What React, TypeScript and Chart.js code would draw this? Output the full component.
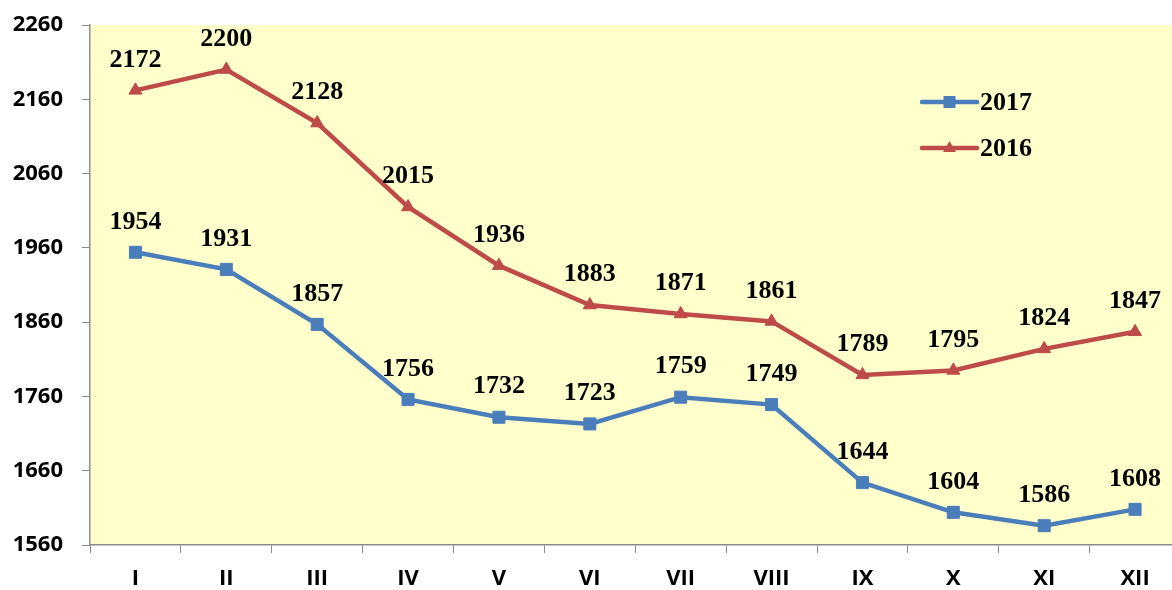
import React, { useEffect, useRef } from "react";
import { Chart, registerables } from "chart.js";

Chart.register(...registerables);

const months = ["I", "II", "III", "IV", "V", "VI", "VII", "VIII", "IX", "X", "XI", "XII"];
const values2017 = [1954, 1931, 1857, 1756, 1732, 1723, 1759, 1749, 1644, 1604, 1586, 1608];
const values2016 = [2172, 2200, 2128, 2015, 1936, 1883, 1871, 1861, 1789, 1795, 1824, 1847];
const seriesNames = ["2017", "2016"];
const yMin = 1560;
const yMax = 2260;
const yStep = 100;

const BLUE = "#4A7EBB";
const RED = "#BE4B48";
const AXIS = "#8C8C8C";
const BG = "#FFFFCC";

const bgPlugin = {
  id: "plotBg",
  beforeDraw(chart: any) {
    const { ctx, chartArea } = chart;
    ctx.save();
    ctx.fillStyle = BG;
    ctx.fillRect(chartArea.left, chartArea.top, chartArea.right - chartArea.left, chartArea.bottom - chartArea.top);
    ctx.restore();
  },
};

const labelPlugin = {
  id: "pointLabels",
  afterDatasetsDraw(chart: any) {
    const { ctx } = chart;
    ctx.save();
    ctx.font = "bold 26px 'Liberation Serif', 'Times New Roman', serif";
    ctx.fillStyle = "#000";
    ctx.textAlign = "center";
    ctx.textBaseline = "middle";
    chart.data.datasets.forEach((ds: any, i: number) => {
      const meta = chart.getDatasetMeta(i);
      meta.data.forEach((pt: any, j: number) => {
        ctx.fillText(String(ds.data[j]), pt.x, pt.y - 30.5);
      });
    });
    ctx.restore();
  },
};

const legendPlugin = {
  id: "customLegend",
  afterDraw(chart: any) {
    const { ctx } = chart;
    const x0 = 922;
    const x1 = 977;
    const rows = [102, 148];
    ctx.save();
    chart.data.datasets.forEach((ds: any, i: number) => {
      const y = rows[i];
      ctx.strokeStyle = ds.borderColor;
      ctx.lineWidth = 4.5;
      ctx.lineCap = "round";
      ctx.beginPath();
      ctx.moveTo(x0, y);
      ctx.lineTo(x1, y);
      ctx.stroke();
      ctx.fillStyle = ds.borderColor;
      const cx = (x0 + x1) / 2;
      if (ds.pointStyle === "rect") {
        ctx.fillRect(cx - 6, y - 6, 12, 12);
      } else {
        ctx.beginPath();
        ctx.moveTo(cx, y - 7);
        ctx.lineTo(cx + 6.5, y + 4);
        ctx.lineTo(cx - 6.5, y + 4);
        ctx.closePath();
        ctx.fill();
      }
      ctx.fillStyle = "#000";
      ctx.font = "bold 26px 'Liberation Serif', 'Times New Roman', serif";
      ctx.textAlign = "left";
      ctx.textBaseline = "middle";
      ctx.fillText(ds.label, 980, y + 1);
    });
    ctx.restore();
  },
};

export default function App() {
  const ref = useRef<HTMLCanvasElement | null>(null);
  useEffect(() => {
    if (!ref.current) return;
    const chart = new Chart(ref.current, {
      type: "line",
      data: {
        labels: months,
        datasets: [
          {
            label: seriesNames[0],
            data: values2017,
            borderColor: BLUE,
            backgroundColor: BLUE,
            borderWidth: 4.5,
            pointStyle: "rect",
            pointRadius: 8.5,
            pointBorderWidth: 1,
            pointBackgroundColor: BLUE,
            pointBorderColor: BLUE,
            tension: 0,
          },
          {
            label: seriesNames[1],
            data: values2016,
            borderColor: RED,
            backgroundColor: RED,
            borderWidth: 4.5,
            pointStyle: "triangle",
            pointRadius: 7.5,
            pointBorderWidth: 1,
            pointBackgroundColor: RED,
            pointBorderColor: RED,
            tension: 0,
          },
        ],
      },
      options: {
        responsive: false,
        animation: false,
        layout: { padding: { top: 25, left: 0, right: 0, bottom: 0 } },
        plugins: {
          legend: { display: false },
          tooltip: { enabled: false },
          title: { display: false },
        },
        scales: {
          x: {
            type: "category",
            offset: true,
            grid: {
              display: true,
              drawOnChartArea: false,
              drawTicks: true,
              tickLength: 8,
              color: AXIS,
              offset: true,
            },
            border: { color: AXIS, width: 1.5 },
            ticks: {
              color: "#000",
              padding: 13,
              font: { family: "'Open Sans', sans-serif", weight: "bold", size: 22 },
              maxRotation: 0,
              autoSkip: false,
            },
            afterFit: (scale: any) => {
              scale.height = 45;
              scale.paddingLeft = 0;
              scale.paddingRight = 0;
              scale.paddingTop = 0;
              scale.paddingBottom = 0;
            },
          },
          y: {
            min: yMin,
            max: yMax,
            grid: {
              display: true,
              drawOnChartArea: false,
              drawTicks: true,
              tickLength: 8,
              color: AXIS,
            },
            border: { color: AXIS, width: 1.5 },
            ticks: {
              stepSize: yStep,
              color: "#000",
              padding: 19,
              font: { family: "'Open Sans', sans-serif", weight: "bold", size: 22 },
              callback: (v: any) => String(v),
            },
            afterFit: (scale: any) => {
              scale.width = 90;
              scale.paddingLeft = 0;
              scale.paddingRight = 0;
              scale.paddingTop = 0;
              scale.paddingBottom = 0;
            },
          },
        },
      },
      plugins: [bgPlugin, labelPlugin, legendPlugin],
    } as any);
    return () => chart.destroy();
  }, []);

  return (
    <div
      style={{
        position: "fixed",
        left: 0,
        top: 0,
        width: 1172,
        height: 590,
        overflow: "hidden",
        background: "#fff",
      }}
    >
      <canvas ref={ref} width={1190} height={590} style={{ display: "block", width: 1190, height: 590 }} />
    </div>
  );
}
